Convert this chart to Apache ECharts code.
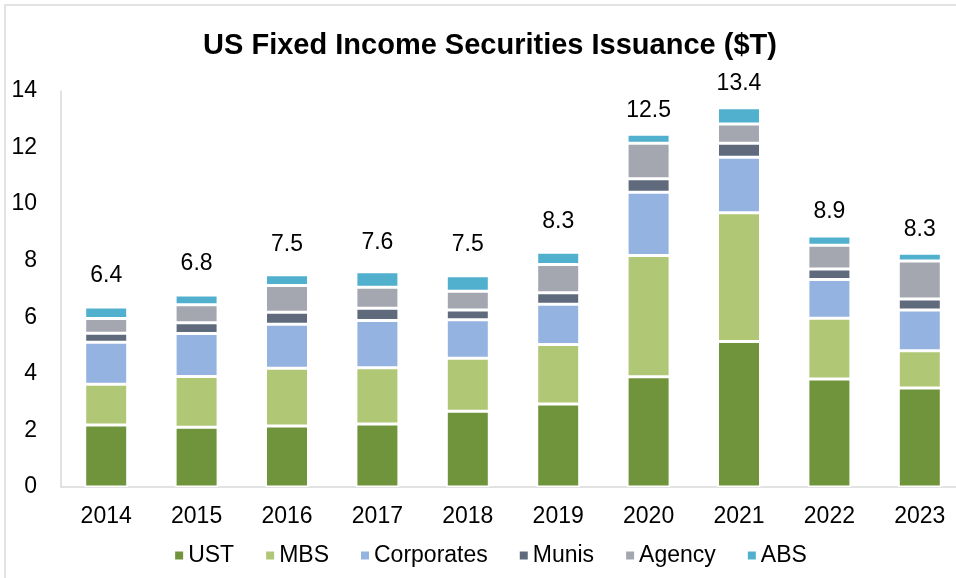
<!DOCTYPE html>
<html>
<head>
<meta charset="utf-8">
<script src="https://cdn.jsdelivr.net/npm/echarts@6/dist/echarts.min.js"></script>
<style>
  html, body { margin: 0; padding: 0; background: #fff; overflow: hidden; }
  #chart { width: 980px; height: 578px; }
</style>
</head>
<body>
<div id="chart"></div>
<script>
// data ($T)
var years = ['2014', '2015', '2016', '2017', '2018', '2019', '2020', '2021', '2022', '2023'];
var ust = [2.19, 2.11, 2.16, 2.23, 2.68, 2.93, 3.90, 5.14, 3.82, 3.50];
var mbs = [1.44, 1.80, 2.04, 1.99, 1.87, 2.11, 4.28, 4.56, 2.15, 1.32];
var corporates = [1.49, 1.52, 1.55, 1.67, 1.36, 1.42, 2.24, 1.96, 1.37, 1.44];
var munis = [0.32, 0.38, 0.43, 0.43, 0.35, 0.41, 0.48, 0.49, 0.37, 0.39];
var agency = [0.52, 0.63, 0.94, 0.74, 0.66, 1.00, 1.25, 0.68, 0.84, 1.34];
var abs = [0.40, 0.35, 0.38, 0.55, 0.55, 0.43, 0.32, 0.58, 0.32, 0.27];
var totals = ['6.4', '6.8', '7.5', '7.6', '7.5', '8.3', '12.5', '13.4', '8.9', '8.3'];

// gap between bar top and its total label (px), labels were placed by hand
var labelGap = [20, 20, 19, 18, 20, 19, 12, 13, 13, 12];

var font = 'Liberation Sans, Arial, sans-serif';
var chartDom = document.getElementById('chart');
var myChart = echarts.init(chartDom, null, {renderer: 'canvas'});

function makeSeries(name, data, color) {
    return {
        name: name,
        type: 'bar',
        stack: 'total',
        barWidth: 43,
        data: data,
        itemStyle: {
            color: color,
            borderColor: '#fff',
            borderWidth: 1.5
        }
    };
}

var series = [
    makeSeries('UST', ust, '#70943c'),
    makeSeries('MBS', mbs, '#b0c776'),
    makeSeries('Corporates', corporates, '#94b3e0'),
    makeSeries('Munis', munis, '#5f6b7d'),
    makeSeries('Agency', agency, '#a4a6b0'),
    makeSeries('ABS', abs, '#52b0cf')
];
// total labels on the top segment
series[5].data = abs.map(function (v, i) {
    return {value: v, label: {distance: labelGap[i]}};
});
series[5].label = {
    show: true,
    position: 'top',
    fontFamily: font,
    fontSize: 23,
    color: '#000',
    formatter: function (p) {
        return totals[p.dataIndex];
    }
};

var option = {
    animation: false,
    backgroundColor: '#fff',
    textStyle: {fontFamily: font},
    graphic: [{
        type: 'rect',
        shape: {x: 5, y: 5, width: 1000, height: 1000},
        style: {fill: 'none', stroke: '#e3e3e3', lineWidth: 2},
        silent: true
    }],
    title: {
        text: 'US Fixed Income Securities Issuance ($T)',
        left: 'center',
        top: 26,
        textStyle: {fontFamily: font, fontSize: 29, fontWeight: 'bold', color: '#000'}
    },
    legend: {
        bottom: 6,
        left: 'center',
        icon: 'rect',
        itemWidth: 10,
        itemHeight: 10,
        itemGap: 30,
        textStyle: {fontFamily: font, fontSize: 23, color: '#000', padding: [0, 0, 0, -1]},
        data: ['UST', 'MBS', 'Corporates', 'Munis', 'Agency', 'ABS']
    },
    grid: {
        left: 61,
        top: 91,
        right: 15,
        bottom: 91
    },
    xAxis: {
        type: 'category',
        data: years,
        axisLine: {lineStyle: {color: '#d9d9d9', width: 1.5}},
        axisTick: {show: false},
        axisLabel: {fontFamily: font, fontSize: 23, color: '#000', margin: 18}
    },
    yAxis: {
        type: 'value',
        min: 0,
        max: 14,
        interval: 2,
        axisLine: {show: true, lineStyle: {color: '#d9d9d9', width: 1.5}},
        axisTick: {show: false},
        splitLine: {show: false},
        axisLabel: {fontFamily: font, fontSize: 23, color: '#000', margin: 24}
    },
    series: series
};

option && myChart.setOption(option);
</script>
</body>
</html>
